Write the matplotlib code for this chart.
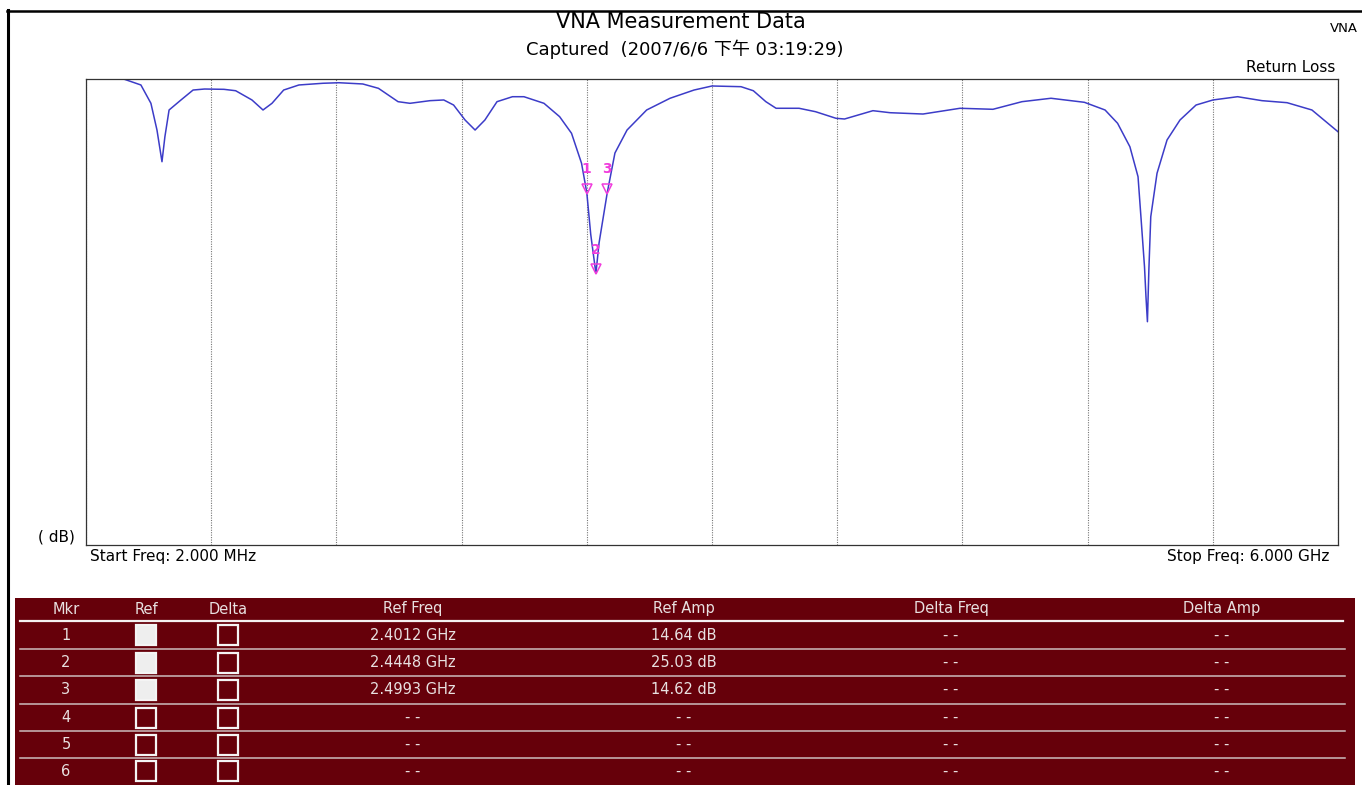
import numpy as np
import matplotlib
matplotlib.use("Agg")
import matplotlib.pyplot as plt
from matplotlib.patches import Rectangle
from matplotlib.transforms import offset_copy

plt.rcParams['font.family'] = ['DejaVu Sans', 'Noto Sans CJK TC']

# return loss trace
freq_ghz = [0.182, 0.265, 0.313, 0.342, 0.366, 0.380, 0.400, 0.457, 0.515, 0.570,
            0.663, 0.719, 0.797, 0.850, 0.893, 0.949, 1.022, 1.137, 1.214, 1.328,
            1.403, 1.497, 1.554, 1.650, 1.716, 1.763, 1.818, 1.866, 1.913, 1.971,
            2.045, 2.100, 2.196, 2.271, 2.328, 2.376, 2.4012, 2.420, 2.4448, 2.460,
            2.4993, 2.536, 2.594, 2.688, 2.800, 2.915, 3.001, 3.140, 3.199, 3.259,
            3.308, 3.418, 3.497, 3.595, 3.636, 3.772, 3.854, 4.012, 4.189, 4.347,
            4.486, 4.625, 4.785, 4.884, 4.944, 5.003, 5.042, 5.057, 5.073, 5.080,
            5.087, 5.094, 5.103, 5.133, 5.181, 5.243, 5.320, 5.401, 5.519, 5.636,
            5.756, 5.875, 6.000]
return_loss_db = [0.0, 0.77, 3.13, 6.57, 10.65, 7.43, 3.99, 2.70, 1.42, 1.29,
                  1.33, 1.51, 2.70, 3.99, 3.13, 1.42, 0.77, 0.55, 0.48, 0.64,
                  1.20, 2.92, 3.13, 2.79, 2.70, 3.35, 5.28, 6.57, 5.28, 2.92,
                  2.28, 2.28, 3.13, 4.85, 6.99, 10.85, 14.64, 20.0, 25.03, 21.1,
                  14.62, 9.53, 6.57, 3.99, 2.48, 1.42, 0.90, 0.99, 1.51, 2.92,
                  3.77, 3.77, 4.21, 5.06, 5.15, 4.08, 4.34, 4.51, 3.77, 3.90,
                  2.92, 2.48, 3.00, 3.99, 5.70, 8.72, 12.58, 18.15, 24.17, 28.0,
                  31.25, 24.5, 17.73, 12.14, 7.85, 5.28, 3.35, 2.70, 2.28, 2.79,
                  3.05, 3.99, 6.79]

# markers
marker_freq = [2.4012, 2.4448, 2.4993]
marker_amp = [14.64, 25.03, 14.62]

# table
headers = ["Mkr", "Ref", "Delta", "Ref Freq", "Ref Amp", "Delta Freq", "Delta Amp"]
mkr_ids = [1, 2, 3, 4, 5, 6]
ref_on = [True, True, True, False, False, False]

start_freq, stop_freq = 0.002, 6.0

W, H = 1362, 785
fig = plt.figure(figsize=(W / 100, H / 100), dpi=100)

ax = fig.add_axes([86 / W, 1 - 545 / H, 1252 / W, 466 / H])
ax.plot(freq_ghz, return_loss_db, color='#3c3cc8', lw=1.1)

mag = '#f03cdc'
tr = offset_copy(ax.transData, fig=fig, x=0, y=4, units='dots')
ax.plot(marker_freq, marker_amp, 'v', ms=7, mfc='none', mec=mag, mew=1.1, transform=tr)
for i in range(len(marker_freq)):
    ax.annotate(str(i + 1), (marker_freq[i], marker_amp[i]), xytext=(0, 17),
                textcoords='offset points', ha='center', va='center',
                color=mag, fontsize=10, fontweight='bold')

ax.set_xlim(start_freq, stop_freq)
ax.set_ylim(60, 0)
ax.set_xticks(np.linspace(start_freq, stop_freq, 11))
ax.set_yticks([])
ax.tick_params(length=0, labelbottom=False)
ax.grid(axis='x', color='#777777', ls=(0, (1, 1.2)), lw=0.8)
for s in ax.spines.values():
    s.set_color('#333333')
    s.set_linewidth(0.9)

# overlay in pixel coordinates for frame, labels and the marker table
ov = fig.add_axes([0, 0, 1, 1])
ov.set_xlim(0, W)
ov.set_ylim(H, 0)
ov.axis('off')

ov.plot([8, 8], [10, H], color='black', lw=2.2)
ov.plot([7, W], [10.5, 10.5], color='black', lw=1.8)

ov.text(681, 22, "VNA Measurement Data", ha='center', va='center', fontsize=15)
ov.text(685, 49, "Captured  (2007/6/6 下午 03:19:29)", ha='center', va='center', fontsize=13)
ov.text(1358, 28, "VNA", ha='right', va='center', fontsize=9.5)
ov.text(1335, 68, "Return Loss", ha='right', va='center', fontsize=11)
ov.text(56, 537, "( dB)", ha='center', va='center', fontsize=11)
ov.text(90, 556, "Start Freq: %.3f MHz" % (start_freq * 1000), ha='left', va='center', fontsize=11)
ov.text(1329, 556, "Stop Freq: %.3f GHz" % stop_freq, ha='right', va='center', fontsize=11)

tab_bg = '#66000a'
tab_fg = '#e8e0e0'
ov.add_patch(Rectangle((15, 598), 1340, 190, fc=tab_bg, ec='none'))

col_x = [66, 146, 228, 413, 684, 951, 1222]
head_y = 609
row_top = [621, 649, 676, 704, 731, 758, 784]

for x, h in zip(col_x, headers):
    ov.text(x, head_y, h, ha='center', va='center', fontsize=10.5, color=tab_fg)

ov.plot([20, 1343], [620.5, 620.5], color='#f4f0f0', lw=1.6)
for y in row_top[1:-1]:
    ov.plot([20, 1345], [y, y], color='#cdbdbd', lw=1.1)

for r, m in enumerate(mkr_ids):
    cy = (row_top[r] + row_top[r + 1]) / 2
    if r < len(marker_freq):
        rf = "%.4f GHz" % marker_freq[r]
        ra = "%.2f dB" % marker_amp[r]
    else:
        rf = ra = "- -"
    cells = [str(m), None, None, rf, ra, "- -", "- -"]
    for x, c in zip(col_x, cells):
        if c is not None:
            ov.text(x, cy, c, ha='center', va='center', fontsize=10.5, color=tab_fg)
    fill = '#eeeeee' if ref_on[r] else 'none'
    ov.add_patch(Rectangle((col_x[1] - 10, cy - 10), 20, 20, fc=fill, ec='#f4f4f4', lw=1.6))
    ov.add_patch(Rectangle((col_x[2] - 10, cy - 10), 20, 20, fc='none', ec='#f4f4f4', lw=1.6))

fig.savefig("out.png", dpi=100)
